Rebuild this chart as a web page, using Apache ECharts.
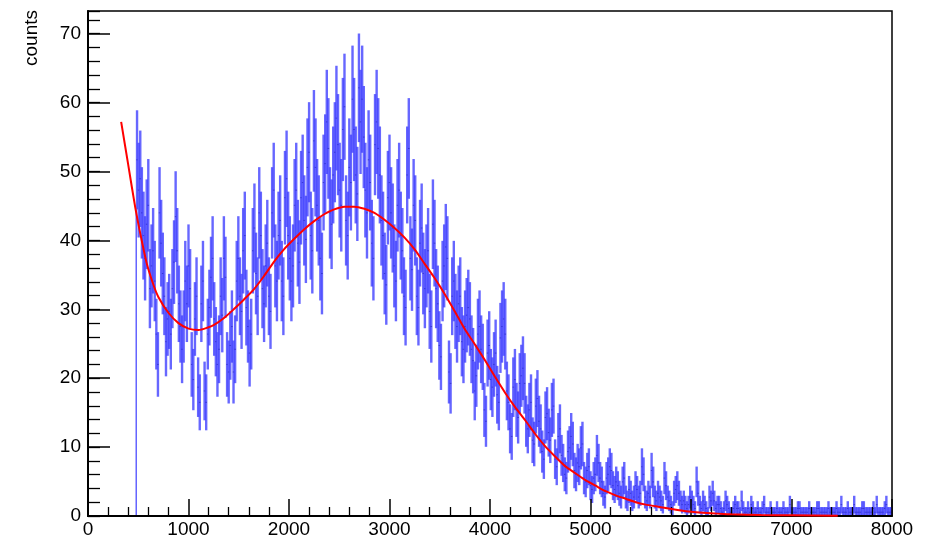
<!DOCTYPE html>
<html>
<head>
<meta charset="utf-8">
<title>counts</title>
<script src="https://cdn.jsdelivr.net/npm/echarts@6/dist/echarts.min.js"></script>
<style>
  html, body { margin: 0; padding: 0; background: #ffffff; }
  #chart { width: 939px; height: 539px; }
</style>
</head>
<body>
<div id="chart"></div>
<script>
// Histogram: 16-unit bins starting at 480; bin content = scale * entries, error = sqrt(content)
const binLow = 480;
const binWidth = 16;
const scale = 0.55;
const counts = [
  94, 86, 89, 80, 74, 68, 77, 82, 60, 66, 70, 62, 48, 40, 80, 72, 64, 58, 46, 52,
  54, 48, 60, 67, 79, 70, 56, 50, 44, 50, 62, 56, 66, 60, 40, 36, 52, 58, 34, 30,
  56, 62, 33, 30, 48, 55, 63, 68, 52, 46, 40, 44, 58, 53, 68, 63, 40, 38, 45, 50,
  38, 44, 62, 68, 58, 54, 70, 74, 55, 50, 43, 48, 70, 76, 64, 58, 80, 74, 60, 56,
  66, 72, 58, 54, 80, 86, 66, 62, 74, 78, 62, 58, 84, 89, 74, 68, 62, 66, 82, 86,
  72, 67, 84, 88, 78, 73, 92, 96, 74, 70, 99, 92, 82, 78, 68, 64, 88, 93, 104, 97,
  80, 77, 90, 96, 105, 98, 86, 82, 102, 108, 78, 74, 92, 88, 110, 102, 90, 85, 113, 104,
  110, 100, 86, 80, 94, 88, 72, 68, 98, 104, 97, 90, 78, 74, 64, 61, 84, 88, 80, 76,
  66, 62, 82, 86, 74, 70, 58, 55, 90, 97, 68, 65, 82, 78, 58, 55, 72, 76, 64, 60,
  66, 70, 54, 50, 77, 72, 60, 56, 45, 42, 62, 66, 71, 68, 38, 35, 58, 62, 54, 50,
  56, 58, 46, 44, 50, 53, 55, 52, 44, 41, 33, 37, 48, 50, 44, 42, 28, 25, 43, 45,
  36, 34, 40, 43, 32, 30, 47, 50, 52, 48, 33, 30, 23, 21, 34, 36, 28, 26, 35, 37,
  39, 35, 25, 23, 28, 30, 20, 19, 29, 31, 25, 23, 17, 15, 26, 27, 22, 20, 28, 29,
  15, 13, 21, 23, 16, 14, 11, 10, 17, 18, 21, 19, 12, 11, 14, 13, 18, 19, 10, 9,
  12, 13, 8, 7, 10, 11, 16, 14, 10, 9, 6, 5, 10, 11, 13, 12, 8, 7, 9, 8,
  6, 5, 9, 10, 5, 4, 7, 6, 4, 5, 8, 7, 5, 6, 13, 11, 5, 4, 6, 5,
  12, 9, 5, 4, 6, 5, 4, 3, 10, 8, 5, 4, 3, 2, 6, 7, 8, 6, 4, 3,
  4, 3, 2, 3, 5, 4, 3, 2, 9, 6, 3, 2, 4, 3, 2, 1, 5, 4, 6, 4,
  2, 3, 3, 2, 1, 2, 4, 3, 2, 1, 1, 2, 3, 2, 2, 1, 4, 2, 1, 1,
  2, 1, 3, 2, 1, 1, 2, 1, 1, 2, 3, 1, 1, 1, 2, 1, 1, 1, 2, 1,
  1, 1, 2, 1, 1, 1, 3, 1, 1, 1, 1, 2, 2, 1, 1, 1, 1, 1, 2, 1,
  1, 1, 1, 2, 2, 1, 1, 1, 1, 1, 2, 1, 1, 1, 1, 2, 1, 1, 3, 1,
  1, 1, 2, 1, 1, 1, 3, 1, 1, 1, 1, 2, 2, 1, 1, 1, 1, 1, 2, 1,
  3, 1, 1, 1, 1, 2, 3, 1, 1, 1
];

// Fitted function sampled along x
const fitX = [330, 400, 470, 530, 584, 650, 700, 800, 900, 1000,
  1100, 1200, 1250, 1350, 1450, 1550, 1650, 1750, 1850, 1950,
  2050, 2150, 2250, 2350, 2450, 2550, 2650, 2750, 2850, 2950,
  3050, 3150, 3250, 3350, 3450, 3550, 3650, 3750, 3850, 3950,
  4050, 4150, 4250, 4350, 4450, 4550, 4650, 4750, 4850, 4950,
  5050, 5150, 5250, 5350, 5450, 5550, 5650, 5750, 5850, 5950,
  6050, 6200, 6400, 6700, 7000, 7460];
const fitY = [57.2, 51.0, 44.8, 40.3, 36.7, 33.6, 31.8, 29.5, 28.0, 27.2,
  27.0, 27.4, 27.7, 28.7, 30.0, 31.4, 32.9, 34.8, 36.9, 38.7,
  40.2, 41.6, 42.8, 43.8, 44.5, 44.9, 44.9, 44.6, 44.0, 43.0,
  41.8, 40.4, 38.7, 36.6, 34.5, 32.2, 29.7, 27.1, 24.9, 22.6,
  20.2, 17.9, 15.8, 13.9, 11.9, 10.1, 8.6, 7.2, 6.2, 5.2,
  4.4, 3.6, 3.0, 2.5, 2.0, 1.65, 1.4, 1.15, 0.9, 0.7,
  0.55, 0.4, 0.25, 0.15, 0.1, 0.05];

// Axis ranges and ticks
const xMin = 0, xMax = 8000, xStep = 1000;
const yMin = 0, yMax = 73.3, yStep = 10, yMinorStep = 2;

const FONT = '"Liberation Sans", Arial, Helvetica, sans-serif';

// [x0, x1, value, value - error, value + error]
const bins = counts.map((n, i) => {
  const x0 = binLow + i * binWidth;
  const v = n * scale;
  const e = Math.sqrt(v);
  return [x0, x0 + binWidth, v, v - e, v + e];
}).filter(b => b[2] > 0);

const fitData = fitX.map((x, i) => [x, fitY[i]]);
const firstEdge = [[bins[0][0], 0], [bins[0][0], bins[0][3]]];

const chart = echarts.init(document.getElementById('chart'), null, { renderer: 'canvas' });

// error box per bin with a dark mark at the bin content
function renderBin(params, api) {
  const x0 = api.value(0), x1 = api.value(1), v = api.value(2);
  const lo = api.value(3), hi = api.value(4);
  const a = api.coord([x0, hi]);
  const b = api.coord([x1, Math.max(lo, 0)]);
  const c = api.coord([x0, v]);
  const pad = 0.4;
  return {
    type: 'group',
    children: [
      {
        type: 'rect',
        shape: { x: a[0] - pad, y: a[1], width: b[0] - a[0] + 2 * pad, height: b[1] - a[1] },
        style: { fill: 'rgba(60,60,255,0.78)' }
      },
      {
        type: 'line',
        shape: { x1: a[0], y1: c[1], x2: b[0], y2: c[1] },
        style: { stroke: 'rgba(25,25,170,0.55)', lineWidth: 1 }
      }
    ]
  };
}

const axisLabelStyle = { color: '#000', fontSize: 19, fontFamily: FONT, formatter: v => String(v) };

chart.setOption({
  backgroundColor: '#ffffff',
  animation: false,
  grid: {
    left: 88, right: 47, top: 11, bottom: 23,
    show: true, borderColor: '#000', borderWidth: 1.5, backgroundColor: 'transparent'
  },
  xAxis: {
    type: 'value', min: xMin, max: xMax, interval: xStep, z: 5,
    axisLine: { show: true, onZero: false, lineStyle: { color: '#000', width: 2 } },
    axisTick: { show: true, inside: true, length: 17, lineStyle: { color: '#000', width: 1.5 } },
    minorTick: { show: true, splitNumber: 5, length: 9, lineStyle: { color: '#000', width: 1.3 } },
    splitLine: { show: false },
    axisLabel: Object.assign({ margin: 4 }, axisLabelStyle)
  },
  yAxis: [
    {
      type: 'value', min: yMin, max: yMax, interval: yStep, z: 5,
      axisLine: { show: true, onZero: false, lineStyle: { color: '#000', width: 2 } },
      axisTick: { show: true, inside: true, length: 22, lineStyle: { color: '#000', width: 1.5 } },
      splitLine: { show: false },
      axisLabel: Object.assign({ margin: 7, showMaxLabel: false }, axisLabelStyle)
    },
    {
      // minor ticks every 2 counts on the left edge
      type: 'value', min: yMin, max: yMax, interval: yMinorStep, position: 'left', z: 5,
      axisLine: { show: false },
      axisTick: { show: true, inside: true, length: 12, lineStyle: { color: '#000', width: 1.3 } },
      splitLine: { show: false },
      axisLabel: { show: false }
    }
  ],
  graphic: [
    {
      type: 'text', x: 32, y: 10, rotation: Math.PI / 2,
      style: { text: 'counts', font: '19px ' + FONT, fill: '#000', align: 'right', verticalAlign: 'middle' }
    }
  ],
  series: [
    {
      type: 'custom',
      renderItem: renderBin,
      clip: true,
      z: 2,
      encode: { x: [0, 1], y: [3, 4] },
      data: bins
    },
    {
      type: 'line',
      data: firstEdge,
      symbol: 'none',
      z: 2,
      lineStyle: { color: 'rgba(60,60,255,0.8)', width: 1.5 }
    },
    {
      type: 'line',
      data: fitData,
      symbol: 'none',
      smooth: 0.25,
      z: 6,
      lineStyle: { color: '#ff0000', width: 2 }
    }
  ]
});
</script>
</body>
</html>
